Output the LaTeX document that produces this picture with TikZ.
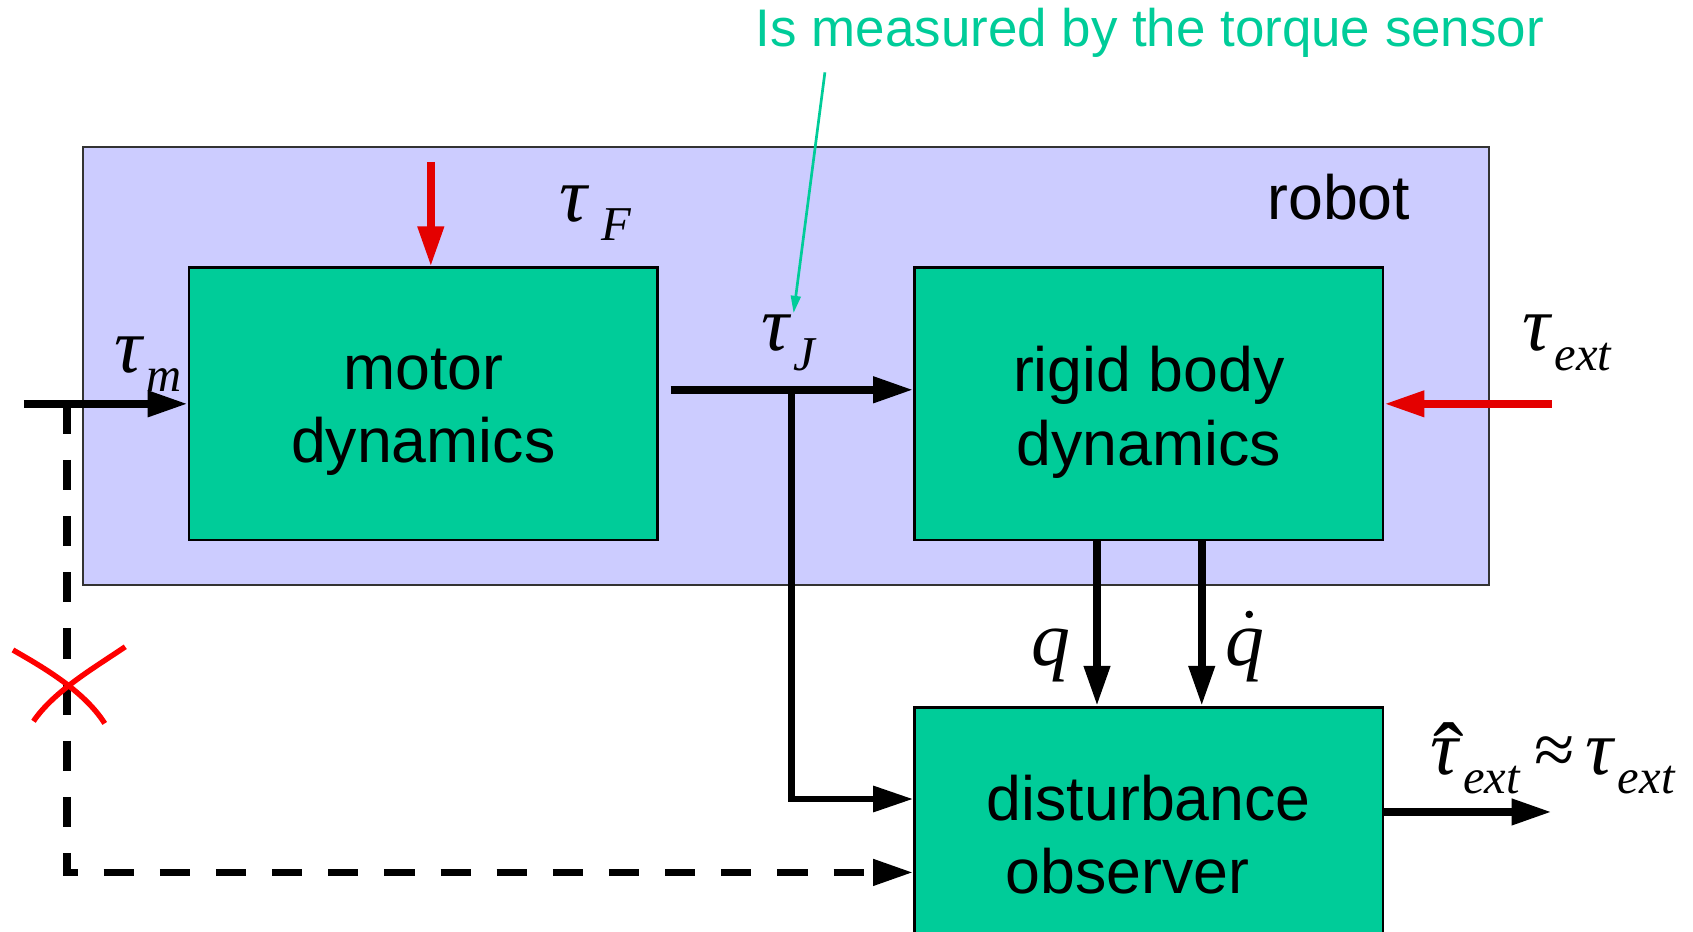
\documentclass[tikz,border=0pt]{standalone}
\usepackage{fontspec}
\setmainfont{Liberation Sans}
\newfontfamily\tms{Liberation Serif}
\usetikzlibrary{arrows.meta}
\definecolor{boxgreen}{RGB}{0,204,153}
\definecolor{robotblue}{RGB}{204,204,255}
\definecolor{sigred}{RGB}{228,0,0}
\newcommand\bigsym[1]{{\tms\itshape\fontsize{72}{72}\selectfont #1}}
\newcommand\subsym[1]{\kern4pt\raisebox{-18pt}{\tms\itshape\fontsize{45}{45}\selectfont #1}}
\begin{document}
\begin{tikzpicture}[x=1pt,y=-1pt,
  blk/.style={draw=black, line width=2.5pt, fill=boxgreen, minimum width=434pt, inner sep=0pt},
  blktxt/.style={align=center, font=\fontsize{58}{68}\selectfont, inner sep=0pt},
  sig/.style={line width=7pt, -{Triangle[length=37pt,width=23pt]}},
  redsig/.style={sig, draw=sigred},
  dsig/.style={sig, dash pattern=on 28pt off 24pt},
  lbl/.style={inner sep=0pt, anchor=base west}]
\useasboundingbox (0,0) rectangle (1568,863);
% robot frame
\node (robot) [draw=black!80, line width=1.5pt, fill=robotblue, minimum width=1302pt,
  minimum height=406pt, inner sep=0pt] at (728,339) {};
\node (robotlbl) [font=\fontsize{58}{58}\selectfont, inner sep=0pt] at (1240,183) {robot};
% blocks
\node (md) [blk, minimum height=252pt] at (392,374) {};
\node (rb) [blk, minimum height=252pt] at (1064,374) {};
\node (dob) [blk, minimum height=240pt] at (1064,775) {};
\node (mdt) [blktxt] at ([yshift=-8pt]md.center) {motor\\dynamics};
\node (rbt) [blktxt] at ([yshift=-8pt]rb.center) {rigid body\\dynamics};
\node (dobt) [blktxt] at ([yshift=2pt]dob.center) {disturbance\\observer\hspace*{40pt}};
% tau_m input
\coordinate (tmin) at (22,374);
\coordinate (tmbr) at (62,374);
\draw[sig] (tmin) -- (md.west);
\draw[dsig] (tmbr) -- (62,808) -- (62,808 -| dob.west);
% red cross
\draw[red, line width=5pt] (12,602) .. controls (40,618) and (78,640) .. (97,670);
\draw[red, line width=5pt] (116,599) .. controls (88,618) and (50,640) .. (31,668);
% tau_F
\coordinate (tfin) at (399,150);
\draw[redsig] (tfin) -- (tfin |- md.north);
% tau_J
\coordinate (tjs) at (621,361);
\coordinate (tjb) at (733,361);
\draw[sig] (tjs) -- (tjs -| rb.west);
\draw[sig, line width=6pt] (tjb) -- (733,740) -- (733,740 -| dob.west);
% tau_ext
\coordinate (tein) at (1437,374);
\draw[redsig] (tein) -- (rb.east);
% q, qdot
\draw[sig] (rb.south -| 1016,0) -- (dob.north -| 1016,0);
\draw[sig] (rb.south -| 1113,0) -- (dob.north -| 1113,0);
% output
\coordinate (tout) at (1437,752);
\draw[sig] (dob.east |- tout) -- (tout);
% annotation
\node (note) [text=boxgreen, font=\fontsize{49}{49}\selectfont, inner sep=0pt] at (1065,30) {Is measured by the torque sensor};
\coordinate (na) at (764,67);
\coordinate (nb) at (735,290);
\draw[boxgreen, line width=2.5pt, -{Triangle[length=16pt,width=9pt]}] (na) -- (nb);
% math labels
\node (ltm) [lbl] at (106,345) {\bigsym{τ}\subsym{m}};
\node (ltf) [lbl] at (518,205) {\bigsym{τ}\kern9pt\subsym{F}};
\node (ltj) [lbl] at (705,325) {\bigsym{τ}\subsym{J}};
\node (lte) [lbl] at (1410,325) {\bigsym{τ}\subsym{ext}};
\node (lq) [lbl] at (955,616) {\bigsym{q}};
\node (lqd) [lbl] at (1135,616) {\bigsym{q}};
\node (lqdot) [inner sep=0pt, fill=black, circle, minimum size=7pt] at (1157,569) {};
\node (lest) [lbl] at (1325,717) {\bigsym{τ}\subsym{ext}\kern14pt{\tms\fontsize{68}{68}\selectfont ≈}\kern10pt\bigsym{τ}\subsym{ext}};
\node (lhat) [inner sep=0pt, anchor=base] at (1342,728) {\tms\fontsize{85}{85}\selectfont ˆ};
\end{tikzpicture}
\end{document}
